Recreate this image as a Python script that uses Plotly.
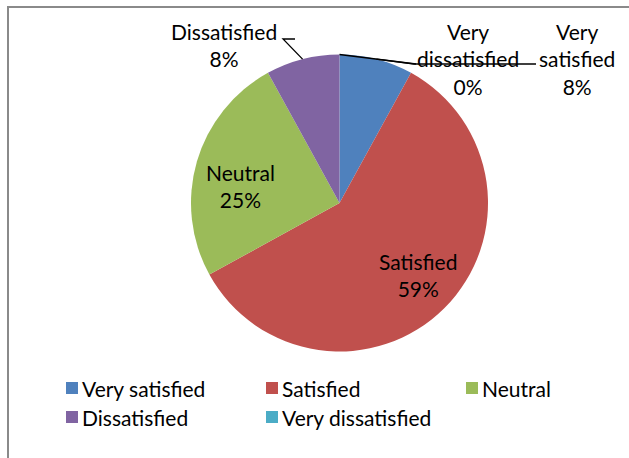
import math
import plotly.graph_objects as go

# ---- data ----
categories = ["Very satisfied", "Satisfied", "Neutral", "Dissatisfied", "Very dissatisfied"]
values = [8, 59, 25, 8, 0]
colors = ["#4F81BD", "#C0504D", "#9BBB59", "#8064A2", "#4BACC6"]

# ---- layout constants (pixels) ----
W, H = 629, 458
CX, CY, R = 339.5, 203.0, 148.5
FONT = "Lato, Calibri, Carlito, sans-serif"
FS = 21

def px(x):
    return x / W

def py(y):
    return 1 - y / H

fig = go.Figure()
fig.add_trace(go.Pie(
    labels=categories, values=values,
    marker=dict(colors=colors, line=dict(width=0)),
    sort=False, direction="clockwise", rotation=0,
    textinfo="none", showlegend=False,
    domain=dict(x=[px(CX - R), px(CX + R)], y=[py(CY + R), py(CY - R)]),
))

total = sum(values)
mid_angles = []
acc = 0
for v in values:
    mid_angles.append((acc + v / 2) / total * 2 * math.pi)
    acc += v

def edge_point(i, frac=1.0):
    a = mid_angles[i]
    return CX + frac * R * math.sin(a), CY - frac * R * math.cos(a)

# label placement (pixel centers of the text block) and wrapping
label_pos = {
    "Very satisfied": (577, 59, True),
    "Satisfied": (418, 275, False),
    "Neutral": (241, 186, False),
    "Dissatisfied": (224, 45, False),
    "Very dissatisfied": (468, 59, True),
}

annotations = []
shapes = []
for i, cat in enumerate(categories):
    x, y, wrap = label_pos[cat]
    name = cat.replace(" ", "<br>") if wrap else cat
    annotations.append(dict(
        x=px(x), y=py(y), xref="paper", yref="paper",
        text=f"{name}<br>{values[i]}%", showarrow=False,
        xanchor="center", yanchor="middle",
        font=dict(family=FONT, size=FS, color="#000000"),
    ))

# leader lines
leaders = {
    "Dissatisfied": [(283, 39), (295, 39)],
    "Very dissatisfied": [(416, 64)],
    "Very satisfied": [(414, 64), (536, 64)],
}
for cat, pts in leaders.items():
    i = categories.index(cat)
    sx, sy = edge_point(i)
    path_pts = list(reversed(pts)) + [(sx, sy)] if cat == "Dissatisfied" else [(sx, sy)] + pts
    d = "M " + " L ".join(f"{px(a):.5f},{py(b):.5f}" for a, b in path_pts)
    shapes.append(dict(type="path", path=d, xref="paper", yref="paper",
                       line=dict(color="#000000", width=1.3)))

# custom legend
for i, cat in enumerate(categories):
    col, row = i % 3, i // 3
    lx = 66 + col * 200
    ly = 388 + row * 29
    shapes.append(dict(type="rect", xref="paper", yref="paper",
                       x0=px(lx), x1=px(lx + 12), y0=py(ly + 6), y1=py(ly - 6),
                       fillcolor=colors[i], line=dict(width=0)))
    annotations.append(dict(
        x=px(lx + 14), y=py(ly), xref="paper", yref="paper", text=cat,
        showarrow=False, xanchor="left", yanchor="middle",
        font=dict(family=FONT, size=FS, color="#000000"),
    ))

# chart area border (left and top visible)
shapes.append(dict(type="path", xref="paper", yref="paper",
                   path=f"M {px(8)},{py(460)} L {px(8)},{py(7)} L {px(632)},{py(7)}",
                   line=dict(color="#8A8A8A", width=2)))

fig.update_layout(
    width=W, height=H,
    margin=dict(l=0, r=0, t=0, b=0),
    paper_bgcolor="#FFFFFF", plot_bgcolor="#FFFFFF",
    annotations=annotations, shapes=shapes,
    font=dict(family=FONT, size=FS),
)

fig.write_html("out.html")
